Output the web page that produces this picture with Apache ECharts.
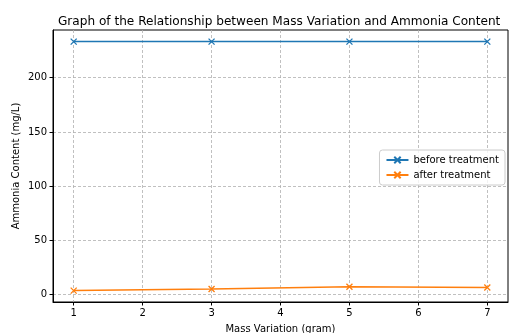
<!DOCTYPE html>
<html><head><meta charset="utf-8">
<script src="https://cdn.jsdelivr.net/npm/echarts@6/dist/echarts.min.js"></script>
<style>html,body{margin:0;padding:0;background:#fff}#c{width:510px;height:333px}</style>
</head><body><div id="c"></div>
<script>
const massVariation = [1, 3, 5, 7];
const beforeTreatment = [233.2, 233.2, 233.2, 233.2];
const afterTreatment = [3.8, 5.2, 7.3, 6.7];
const xTicks = [1, 2, 3, 4, 5, 6, 7];
const yTicks = [0, 50, 100, 150, 200];

const F = 'DejaVu Sans';
const xMark = 'path://M0,0L10,10M10,0L0,10';
const chart = echarts.init(document.getElementById('c'));
function ser(name, vals, color) {
  return {
    name, type: 'line', data: massVariation.map((x, i) => [x, vals[i]]),
    symbol: xMark, symbolSize: 6, showAllSymbol: true,
    lineStyle: {color, width: 1.5},
    itemStyle: {color: 'rgba(0,0,0,0)', borderColor: color, borderWidth: 1.3},
    emphasis: {disabled: true}, animation: false
  };
}
chart.setOption({
  animation: false,
  textStyle: {fontFamily: F},
  title: {text: 'Graph of the Relationship between Mass Variation and Ammonia Content',
    left: 53, top: 11,
    textStyle: {fontFamily: F, fontSize: 12.1, fontWeight: 'normal', color: '#000'}},
  grid: {left: 53, right: 2, top: 30, bottom: 31, show: true, borderColor: '#000', borderWidth: 1,
    outerBoundsMode: 'none', containLabel: false},
  legend: {
    right: 5, top: 150, orient: 'vertical', itemGap: 5, itemWidth: 22, itemHeight: 8,
    borderColor: '#cccccc', borderWidth: 1, borderRadius: 3, padding: [5, 6, 5, 6],
    backgroundColor: 'rgba(255,255,255,0.8)',
    textStyle: {fontFamily: F, fontSize: 10, color: '#000'},
    data: ['before treatment', 'after treatment']
  },
  xAxis: {
    type: 'value', min: 0.7, max: 7.3,
    name: 'Mass Variation (gram)', nameLocation: 'middle', nameGap: 22,
    nameTextStyle: {fontFamily: F, fontSize: 10, color: '#000'},
    axisLine: {show: true, onZero: false, lineStyle: {color: '#000'}},
    axisTick: {show: true, length: 3.5, customValues: xTicks, lineStyle: {color: '#000'}},
    axisLabel: {customValues: xTicks, fontFamily: F, fontSize: 10, color: '#000', margin: 6},
    splitLine: {show: true, lineStyle: {color: '#b0b0b0', type: [3, 2], width: 0.8}}
  },
  yAxis: {
    type: 'value', min: -6.7, max: 243.9,
    name: 'Ammonia Content (mg/L)', nameLocation: 'middle', nameGap: 32, nameMoveOverlap: false,
    nameTextStyle: {fontFamily: F, fontSize: 10, color: '#000'},
    axisLine: {show: true, onZero: false, lineStyle: {color: '#000'}},
    axisTick: {show: true, length: 3.5, customValues: yTicks, lineStyle: {color: '#000'}},
    axisLabel: {customValues: yTicks, fontFamily: F, fontSize: 10, color: '#000', margin: 6},
    splitLine: {show: true, lineStyle: {color: '#b0b0b0', type: [3, 2], width: 0.8}}
  },
  series: [ser('before treatment', beforeTreatment, '#1f77b4'), ser('after treatment', afterTreatment, '#ff7f0e')]
});
</script></body></html>
